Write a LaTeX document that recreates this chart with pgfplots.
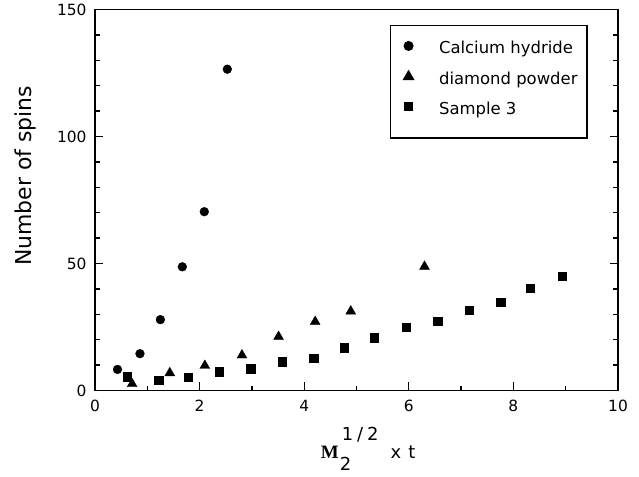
\documentclass[border=0pt]{standalone}
\usepackage{pgfplots}
\pgfplotsset{compat=1.18}
\usepackage{fontspec}
\setmainfont{DejaVu Sans}
\newfontfamily\serifb{Liberation Serif}
\pgfplotstableread{
x y
0.43 8.3
0.86 14.5
1.25 27.9
1.67 48.7
2.09 70.4
2.53 126.5
}\cah
\pgfplotstableread{
x y
0.71 2.6
1.43 6.9
2.10 9.8
2.81 13.9
3.51 21.2
4.21 27.1
4.89 31.2
6.30 48.8
}\dia
\pgfplotstableread{
x y
0.61 5.4
1.22 4.0
1.78 5.3
2.38 7.4
2.98 8.6
3.58 11.3
4.18 12.7
4.77 16.9
5.34 20.8
5.95 24.9
6.55 27.4
7.15 31.6
7.76 34.8
8.32 40.2
8.93 45.0
}\sam
\begin{document}
\begin{tikzpicture}
\useasboundingbox (-95bp,-86.5bp) rectangle (544bp,390.5bp);
\begin{axis}[
  at={(0,0)}, anchor=south west,
  scale only axis, width=523bp, height=381bp,
  xmin=0, xmax=10, ymin=0, ymax=150,
  xtick={0,2,4,6,8,10}, minor xtick={1,3,5,7,9},
  ytick={0,50,100,150}, minor ytick={10,20,30,40,60,70,80,90,110,120,130,140},
  xtick pos=left, ytick pos=both,
  tick align=inside,
  major tick length=8bp, minor tick length=5bp,
  every tick/.style={line width=1.3bp, black},
  every minor tick/.style={line width=1.3bp, black},
  axis line style={line width=1.6bp},
  /pgf/number format/assume math mode=true,
  tick label style={font=\fontsize{15.5}{15.5}\selectfont},
  yticklabel style={xshift=-5bp},
  xticklabel style={yshift=-6bp},
  xlabel={{\serifb\bfseries\fontsize{19}{19}\selectfont M}\hspace{1bp}\makebox[0pt][l]{\raisebox{-12bp}{2}}\hspace{2bp}\raisebox{18bp}{1\hspace{4bp}/\hspace{4bp}2}\hspace{12bp}x\hspace{7bp}t},
  xlabel style={at={(axis description cs:0.4316,-0.178)}, anchor=base west, inner sep=0pt, font=\fontsize{18}{18}\selectfont},
  ylabel={Number of spins},
  ylabel style={at={(axis description cs:-0.121,0.563)}, anchor=base, inner sep=0pt, font=\fontsize{22}{22}\selectfont},
  legend cell align=left,
  legend image code/.code={\path[draw=none] (0bp,0bp) -- (17bp,0bp); \draw[#1] plot coordinates {(8.5bp,5.5bp)};},
  legend style={at={(axis description cs:0.564,0.9593)}, anchor=north west,
    draw=black, line width=1.2bp, inner xsep=9.5bp, inner ysep=15.3bp, row sep=8.9bp,
    font=\fontsize{16.5}{16.5}\selectfont,
    nodes={inner sep=0pt, text height=13bp, text depth=8.1bp},
    /tikz/every odd column/.append style={column sep=22bp}},
]
\addplot[only marks, mark=*, mark size=4.4bp, black] table {\cah};
\addlegendentry{Calcium hydride}
\addplot[only marks, mark=triangle*, mark size=5.7bp, black] table {\dia};
\addlegendentry{diamond powder}
\addplot[only marks, mark=square*, mark size=4.2bp, black] table {\sam};
\addlegendentry{Sample 3}
\end{axis}
\end{tikzpicture}
\end{document}
